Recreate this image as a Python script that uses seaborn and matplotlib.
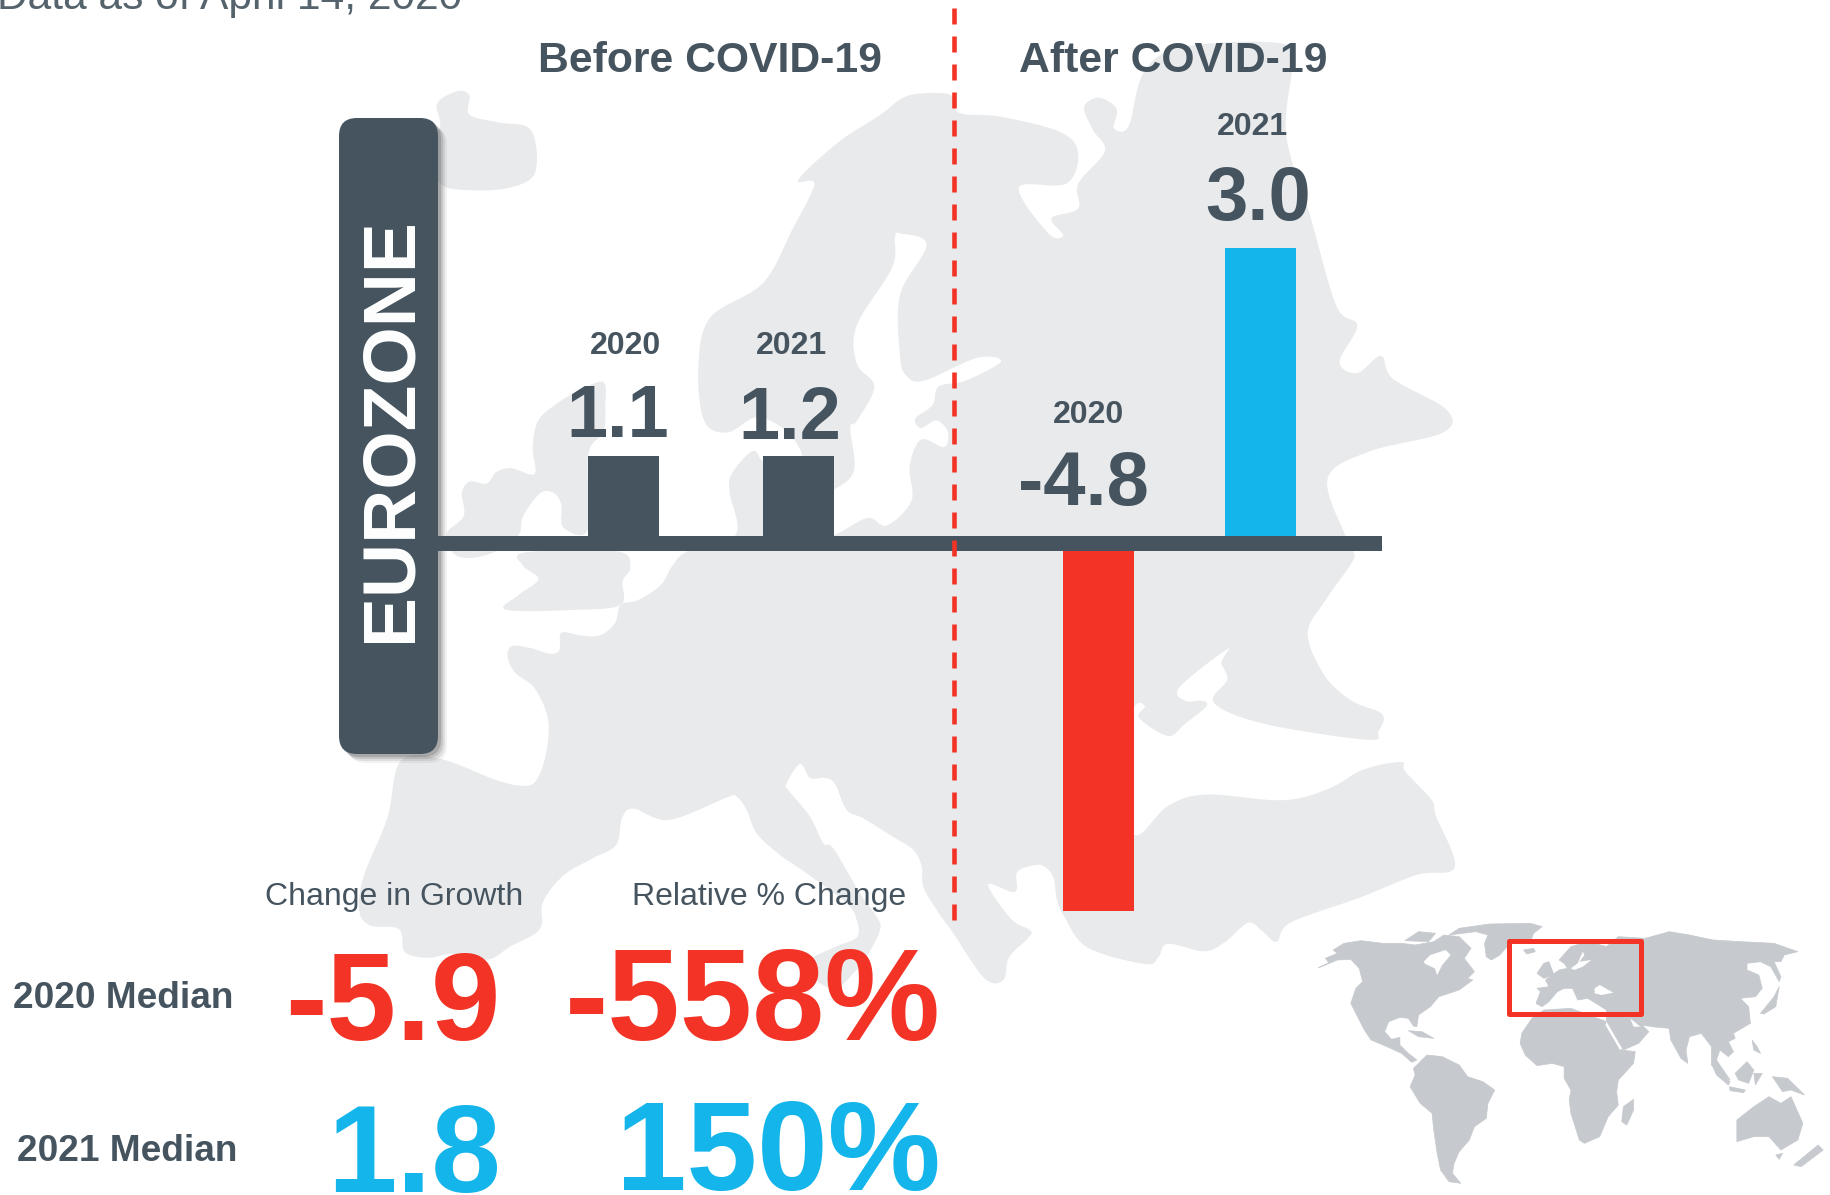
import numpy as np
import pandas as pd
import matplotlib
matplotlib.use("Agg")
import matplotlib.pyplot as plt
from matplotlib.patches import FancyBboxPatch, Polygon, Rectangle
import seaborn as sns

# ---- data ----
years = ["2020", "2021"]
before_labels = ["1.1", "1.2"]
after_labels = ["-4.8", "3.0"]
# bar lengths as drawn in the reference (its bars are not to a common scale)
before_lengths = [1.136, 1.136]
after_lengths = [-4.8, 3.86]
medians = ["2020 Median", "2021 Median"]
change_in_growth = ["-5.9", "1.8"]
relative_change = ["-558%", "150%"]

DARK, RED, BLUE = "#45545F", "#F23325", "#14B5EA"
LAND, WORLD = "#E9EAEC", "#C6C9CE"
W, H = 1831, 1195
PX_PER_UNIT = 76.6
ZERO_Y = 543.4

sns.set_theme(style="white")
plt.rcParams["font.family"] = ["Liberation Sans", "DejaVu Sans"]
fig = plt.figure(figsize=(W / 100, H / 100), dpi=100, facecolor="white")


def z1(p): return [(x / 1.704, y / 2.613) for x, y in p]
def z2(p): return [(900 + x / 1.684, y / 2.613) for x, y in p]
def z3(p): return [(x / 1.704, 600 + y / 2.613) for x, y in p]
def z5(p): return [(370 + x / 2.613, 340 + y / 2.613) for x, y in p]
def z6(p): return [(900 + x / 2.613, 540 + y / 2.613) for x, y in p]
def z7(p): return [(720 + x / 3, 780 + y / 3) for x, y in p]
def z4(p): return [(1300 + x / 2.953, 900 + y / 3.0) for x, y in p]


def smooth(pts, n=8):
    p = np.array(pts, float)
    out = []
    N = len(p)
    for i in range(N):
        p0, p1, p2, p3 = p[i - 1], p[i], p[(i + 1) % N], p[(i + 2) % N]
        for t in np.linspace(0, 1, n, endpoint=False):
            out.append(0.5 * (2 * p1 + (p2 - p0) * t
                              + (2 * p0 - 5 * p1 + 4 * p2 - p3) * t ** 2
                              + (3 * p1 - p0 - 3 * p2 + p3) * t ** 3))
    return np.array(out)


mainland = (
    z5([(830, 552), (790, 590), (760, 640), (700, 680), (655, 692), (640, 740), (600, 772),
        (550, 772), (500, 765), (495, 810), (470, 820), (420, 805), (370, 800), (360, 830),
        (380, 870), (430, 910), (465, 990), (460, 1080), (435, 1150), (400, 1165), (330, 1150),
        (185, 1095), (80, 1100)])
    + z3([(660, 570), (620, 720), (612, 810), (630, 850), (680, 860), (690, 920), (730, 935),
          (770, 925), (830, 940), (870, 905), (920, 860), (925, 790), (960, 720), (1010, 675),
          (1050, 640), (1060, 570), (1080, 545), (1140, 575)])
    + z7([(24, 51), (50, 50), (80, 90), (110, 160), (180, 225), (260, 280), (380, 370), (410, 420),
          (412, 470), (360, 495), (280, 530), (240, 555), (300, 610), (350, 625), (400, 580),
          (440, 530), (480, 450), (470, 410), (420, 340), (340, 205), (310, 190), (270, 110),
          (205, 30), (200, 10), (240, -48), (270, -6), (315, -6), (345, 12), (380, 90), (430, 115),
          (510, 165), (580, 210), (605, 260), (610, 320), (650, 390), (700, 460)])
    + z6([(220, 1145), (270, 1150), (285, 1090), (335, 1040), (340, 1020), (290, 990), (230, 900),
          (300, 920), (305, 870), (330, 855), (370, 850), (400, 880), (410, 940), (430, 985),
          (490, 1065), (640, 1108), (675, 1090), (700, 1055), (795, 1075), (850, 1050), (910, 1000),
          (950, 1025), (985, 1050), (1020, 1000), (1200, 935), (1350, 875), (1450, 855), (1400, 720),
          (1390, 680), (1320, 605), (1310, 580), (1210, 600), (1120, 650), (1000, 680), (800, 665),
          (700, 695), (610, 770), (560, 600), (610, 440), (640, 435), (625, 465), (700, 512),
          (745, 480), (800, 435), (790, 420), (745, 420), (730, 385), (855, 285), (840, 320),
          (855, 365), (820, 425), (950, 480), (1220, 522), (1250, 500), (1260, 455), (1180, 420),
          (1110, 355), (1065, 245), (1110, 160), (1180, 60), (1185, 30)])
    + z2([(750, 1400), (720, 1250), (790, 1180), (915, 1130), (920, 1070), (830, 990), (810, 930),
          (770, 975), (740, 945), (770, 850), (735, 800), (690, 560), (650, 350), (660, 150),
          (620, 110), (470, 125), (410, 190), (385, 330), (360, 335), (365, 285), (335, 255),
          (310, 280), (325, 340), (345, 395), (300, 480), (300, 545), (255, 570), (275, 615),
          (250, 610), (200, 490), (280, 480), (300, 400), (270, 345), (170, 305), (100, 295),
          (85, 248), (30, 245), (0, 260)])
    + z1([(1500, 300), (1430, 370), (1360, 470), (1388, 480), (1350, 600), (1300, 740), (1210, 830),
          (1190, 960), (1200, 1100), (1240, 1130), (1290, 1090)])
    + z5([(1090, 240), (1130, 305), (1100, 340), (1030, 320), (1000, 290), (945, 350), (940, 400),
          (955, 510)])
)
baltic = (
    z1([(1525, 620), (1520, 700), (1460, 850), (1460, 950), (1490, 1010), (1460, 1100)])
    + z5([(1255, 230), (1265, 340), (1213, 390), (1150, 400), (1150, 520), (1213, 510), (1300, 465),
          (1350, 485), (1415, 420), (1410, 330), (1440, 260), (1500, 280), (1510, 240), (1480, 210),
          (1440, 230), (1425, 205), (1470, 170)])
    + z2([(65, 1010), (110, 995), (170, 945), (130, 935), (40, 995), (10, 980), (0, 930), (0, 770),
          (45, 640), (0, 610)])
)
europe_islands = [
    z1([(745, 270), (780, 238), (800, 250), (800, 300), (850, 320), (905, 340), (912, 450),
        (870, 490), (800, 497), (750, 480), (730, 400), (750, 330)]),
    z5([(610, 110), (550, 130), (490, 165), (440, 210), (425, 280), (430, 350), (370, 335), (330, 345),
        (305, 375), (260, 370), (240, 400), (245, 460), (200, 505), (215, 555), (260, 570), (330, 552),
        (388, 510), (400, 460), (445, 400), (480, 400), (500, 430), (505, 490), (570, 495), (570, 300),
        (610, 240), (615, 170)]),
    z5([(645, 552), (405, 555), (400, 590), (440, 625), (390, 665), (355, 705), (540, 705), (655, 692),
        (660, 630), (680, 595)]),
]
world = [
    [(55, 203), (85, 188), (75, 175), (110, 160), (98, 150), (130, 130), (180, 122), (245, 130),
     (300, 130), (340, 135), (395, 125), (425, 105), (470, 110), (505, 145), (485, 175), (515, 215),
     (495, 235), (510, 240), (470, 270), (410, 290), (385, 320), (350, 345), (345, 380), (335, 378),
     (320, 355), (295, 352), (262, 365), (250, 395), (270, 418), (295, 412), (295, 435), (320, 460),
     (345, 480), (330, 487), (300, 460), (250, 437), (210, 420), (190, 390), (165, 340), (150, 310),
     (165, 265), (185, 245), (175, 205), (150, 178), (110, 180), (75, 195)],
    [(440, 105), (470, 85), (560, 72), (680, 70), (715, 80), (690, 100), (680, 125), (620, 130),
     (590, 165), (565, 180), (550, 170), (545, 130), (555, 105), (520, 95), (480, 100)],
    [(310, 122), (350, 95), (400, 100), (380, 125)],
    [(335, 505), (375, 465), (420, 470), (470, 495), (495, 530), (540, 545), (575, 570), (555, 610),
     (550, 655), (515, 680), (500, 720), (470, 755), (455, 790), (450, 820), (475, 850), (440, 845),
     (415, 810), (405, 760), (395, 690), (390, 640), (355, 610), (325, 560), (340, 525)],
    [(655, 400), (685, 355), (720, 330), (800, 325), (905, 365), (950, 450), (990, 455), (985, 490),
     (940, 540), (935, 575), (940, 615), (910, 650), (885, 710), (840, 730), (825, 720), (800, 640),
     (795, 600), (800, 570), (780, 535), (780, 500), (745, 490), (700, 497), (665, 465), (650, 430)],
    [(985, 598), (985, 630), (965, 675), (950, 665), (955, 620)],
    [(697, 310), (710, 275), (700, 265), (735, 260), (725, 240), (765, 210), (790, 205), (780, 190),
     (765, 180), (800, 140), (850, 125), (870, 130), (905, 140), (940, 110), (1020, 115), (1090, 95),
     (1150, 105), (1220, 120), (1300, 125), (1400, 130), (1470, 155), (1430, 165), (1420, 185),
     (1400, 185), (1420, 230), (1415, 245), (1390, 200), (1360, 185), (1320, 190), (1320, 210),
     (1355, 225), (1365, 265), (1345, 290), (1300, 295), (1325, 320), (1330, 370), (1280, 400),
     (1285, 415), (1265, 425), (1280, 455), (1265, 470), (1240, 450), (1230, 480), (1270, 540),
     (1250, 530), (1215, 495), (1215, 440), (1185, 400), (1150, 410), (1140, 450), (1145, 490),
     (1125, 475), (1095, 420), (1090, 385), (1040, 380), (1010, 375), (1030, 395), (1000, 430),
     (955, 450), (905, 365), (905, 330), (850, 295), (820, 300), (805, 265), (780, 265), (760, 275),
     (735, 305), (715, 320), (700, 312)],
    [(660, 150), (690, 145), (695, 155), (670, 162)],
    [(700, 220), (720, 190), (735, 185), (750, 225), (720, 235)],
    [(1215, 490), (1270, 545), (1265, 555), (1230, 525)],
    [(1268, 560), (1315, 570), (1310, 578), (1270, 572)],
    [(1285, 520), (1320, 485), (1340, 510), (1325, 550), (1295, 540)],
    [(1340, 520), (1365, 520), (1345, 555)],
    [(1335, 420), (1350, 440), (1360, 460), (1340, 450)],
    [(1395, 530), (1440, 535), (1490, 585), (1450, 570), (1425, 575)],
    [(1290, 660), (1340, 620), (1385, 590), (1420, 610), (1450, 590), (1485, 670), (1470, 720),
     (1420, 750), (1385, 710), (1340, 710), (1290, 725)],
    [(1405, 765), (1425, 760), (1415, 778)],
    [(1458, 795), (1530, 735), (1545, 750), (1480, 800)],
    [(1360, 340), (1400, 290), (1415, 260), (1405, 320), (1370, 342)],
    [(320, 392), (360, 395), (395, 415), (350, 410)],
]
world_holes = [
    [(365, 185), (385, 165), (430, 150), (445, 165), (420, 195), (405, 225), (398, 205), (370, 192)],
    [(870, 265), (885, 255), (925, 278), (890, 285), (870, 280)],
    [(800, 205), (820, 190), (835, 155), (840, 165), (825, 185), (860, 180), (835, 200), (810, 210)],
    [(905, 365), (950, 445), (945, 450), (902, 375)],
    [(975, 355), (1005, 380), (985, 380)],
]

# ---- background layer, in pixel coordinates ----
bg = fig.add_axes([0, 0, 1, 1], zorder=0)
bg.set_xlim(0, W); bg.set_ylim(H, 0); bg.axis("off")
bg.add_patch(Polygon(smooth(mainland), closed=True, fc=LAND, ec="none"))
for isl in europe_islands:
    bg.add_patch(Polygon(smooth(isl), closed=True, fc=LAND, ec="none"))
bg.add_patch(Polygon(smooth(baltic), closed=True, fc="white", ec="none"))
for poly in world:
    bg.add_patch(Polygon(z4(poly), closed=True, fc=WORLD, ec=WORLD, lw=0.5, joinstyle="round"))
for poly in world_holes:
    bg.add_patch(Polygon(z4(poly), closed=True, fc="white", ec="none"))
for d, a in zip((9, 7, 5, 3), (0.08, 0.12, 0.18, 0.25)):
    bg.add_patch(FancyBboxPatch((339 + d, 118 + d), 99, 636, fc="#555555", ec="none", alpha=a,
                                boxstyle="round,pad=0,rounding_size=18"))
bg.add_patch(FancyBboxPatch((339, 118), 99, 636, fc=DARK, ec="none",
                            boxstyle="round,pad=0,rounding_size=18"))
bg.add_patch(Rectangle((1506.6 + 2.5, 938 + 2.5), 137 - 5, 78 - 5, fc="none", ec=RED, lw=3.6,
                       joinstyle="round"))


# ---- bars, drawn through seaborn on two axes sharing one value scale ----
def bar_axes(left, right, lengths, colors, width):
    top, bottom = 200, 950
    ax = fig.add_axes([left / W, 1 - bottom / H, (right - left) / W, (bottom - top) / H], zorder=1)
    df = pd.DataFrame({"year": years, "growth": lengths})
    sns.barplot(data=df, x="year", y="growth", hue="year", palette=colors, legend=False,
                width=width, saturation=1, linewidth=0, ax=ax)
    ax.set_xlim(-0.5, 1.5)
    ax.set_ylim(-(bottom - ZERO_Y) / PX_PER_UNIT, (ZERO_Y - top) / PX_PER_UNIT)
    ax.axis("off")
    ax.patch.set_alpha(0)
    return ax


bar_axes(536, 886, before_lengths, [DARK, DARK], 71 / 175)
bar_axes(1017.5, 1341.5, after_lengths, [RED, BLUE], 71 / 162)

# ---- overlay: axis line, divider, all text ----
ov = fig.add_axes([0, 0, 1, 1], zorder=2)
ov.set_xlim(0, W); ov.set_ylim(H, 0); ov.axis("off"); ov.patch.set_alpha(0)
ov.add_patch(Rectangle((438, 535.6), 1382 - 438, 15.6, fc=DARK, ec="none"))
DASH_LW = 3.3  # points
ov.plot([954.2, 954.2], [8, 921], color=RED, lw=DASH_LW,
        linestyle=(0, (16 * 0.72 / DASH_LW, 12 * 0.72 / DASH_LW)), dash_capstyle="butt")


def T(x, y, s, px, color=DARK, weight="bold", ha="center", **kw):
    ov.text(x, y, s, fontsize=px * 0.72, color=color, fontweight=weight, ha=ha, va="baseline", **kw)


T(-3, 9, "Data as of April 14, 2020", 42.5, color="#55636D", weight="normal", ha="left")
T(710.5, 72, "Before COVID-19", 42.7)
T(1173.5, 72, "After COVID-19", 42.7)

T(625.5, 354, years[0], 32)
T(791, 354, years[1], 32)
T(1089, 423, years[0], 32)
T(1252, 135, years[1], 32)
T(618, 437, before_labels[0], 74)
T(790, 439, before_labels[1], 74)
T(1083, 505, after_labels[0], 76)
T(1258.5, 220, after_labels[1], 76)

ov.text(391, 430, "EUROZONE", fontsize=75 * 0.72, color="white", fontweight="bold",
        rotation=90, ha="center", va="center")

T(394, 905, "Change in Growth", 32, weight="normal")
T(769, 905, "Relative % Change", 32, weight="normal")
T(233, 1008, medians[0], 37, ha="right")
T(237, 1161, medians[1], 37, ha="right")
T(501, 1040, change_in_growth[0], 125, color=RED, ha="right")
T(501, 1192, change_in_growth[1], 125, color=BLUE, ha="right")
T(941, 1040, relative_change[0], 130, color=RED, ha="right")
T(941, 1190, relative_change[1], 127, color=BLUE, ha="right")

fig.savefig("out.png", dpi=100, facecolor="white")
